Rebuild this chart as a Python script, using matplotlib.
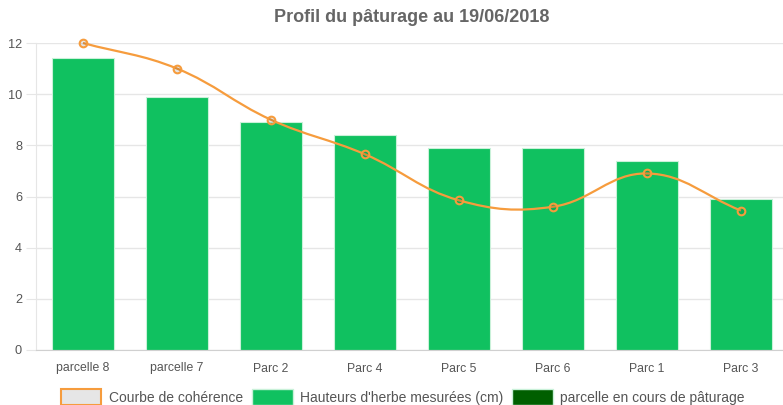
import numpy as np
import matplotlib
matplotlib.use("Agg")
import matplotlib.pyplot as plt
from matplotlib.path import Path
from matplotlib.patches import PathPatch, Patch

plt.rcParams['font.family'] = ['Liberation Sans', 'DejaVu Sans']

# data
parcelles = ['parcelle 8', 'parcelle 7', 'Parc 2', 'Parc 4', 'Parc 5', 'Parc 6', 'Parc 1', 'Parc 3']
hauteurs = [11.4, 9.9, 8.9, 8.4, 7.9, 7.9, 7.4, 5.9]
coherence = [12.0, 11.0, 9.0, 7.65, 5.85, 5.6, 6.9, 5.45]

green = '#10c160'
orange = '#f69c3d'
dark_green = '#005f00'
grey_txt = '#666666'
grid_col = '#e6e6e6'

fig = plt.figure(figsize=(7.83, 4.05), dpi=100)
W, H = 783, 405
# plot area in pixels: x 36..788 (slightly cropped on the right), y 43..350
ax = fig.add_axes([36 / W, (H - 350) / H, 752 / W, 307 / H])

x = np.arange(len(parcelles))
ax.set_xlim(-0.5, len(parcelles) - 0.5)
ax.set_ylim(0, 12)
ax.set_yticks(range(0, 13, 2))
ax.set_xticks(x)
ax.set_xticklabels(parcelles)

ax.grid(axis='y', color=grid_col, linewidth=1)
ax.set_axisbelow(True)
for s in ['top', 'right']:
    ax.spines[s].set_visible(False)
ax.spines['left'].set_color(grid_col)
ax.spines['bottom'].set_color('#d0d0d0')
ax.tick_params(axis='y', colors=grid_col, labelcolor='#555555', length=7, pad=3, labelsize=9.2)
ax.tick_params(axis='x', length=0, pad=9, labelcolor='#555555', labelsize=8.8)

ax.bar(x, hauteurs, width=0.67, color=green, edgecolor='#c9f1d9', linewidth=0.8, zorder=2)

# Chart.js style bezier curve (tension 0.4), computed in pixel space
def chartjs_path(xs, ys, t=0.4):
    pts = ax.transData.transform(np.column_stack([xs, ys]))
    n = len(pts)
    cps = []
    for i in range(n):
        prev = pts[i - 1] if i > 0 else pts[i]
        nxt = pts[i + 1] if i < n - 1 else pts[i]
        d01 = np.hypot(*(pts[i] - prev))
        d12 = np.hypot(*(nxt - pts[i]))
        tot = d01 + d12
        s01 = d01 / tot
        s12 = d12 / tot
        cps.append((pts[i] - t * s01 * (nxt - prev), pts[i] + t * s12 * (nxt - prev)))
    verts = [pts[0]]
    codes = [Path.MOVETO]
    for i in range(1, n):
        verts += [cps[i - 1][1], cps[i][0], pts[i]]
        codes += [Path.CURVE4] * 3
    verts = ax.transData.inverted().transform(np.array(verts))
    return Path(verts, codes)

curve = PathPatch(chartjs_path(x, coherence), facecolor='none', edgecolor=orange,
                  linewidth=1.6, zorder=3, clip_on=False)
ax.add_patch(curve)
ax.plot(x, coherence, linestyle='none', marker='o', markersize=5.5,
        markerfacecolor=(0, 0, 0, 0.1), markeredgecolor=orange, markeredgewidth=1.5,
        zorder=4, clip_on=False)

fig.text((36 + 788) / 2 / W, 1 - 18 / H, 'Profil du pâturage au 19/06/2018',
         ha='center', va='center', fontsize=13, fontweight='bold', color=grey_txt)

handles = [
    Patch(facecolor='#e6e6e6', edgecolor=orange, linewidth=1.5),
    Patch(facecolor=green, edgecolor='#c9f1d9', linewidth=1),
    Patch(facecolor=dark_green, edgecolor='#c9f1d9', linewidth=1),
]
labels = ['Courbe de cohérence', "Hauteurs d'herbe mesurées (cm)", 'parcelle en cours de pâturage']
fig.legend(handles, labels, loc='center', bbox_to_anchor=(403 / W, 1 - 397 / H), ncol=3,
           frameon=False, fontsize=10, handlelength=2.9, handleheight=1.5,
           handletextpad=0.55, columnspacing=0.65, borderpad=0)
for t in fig.legends[0].get_texts():
    t.set_color('#555555')

fig.savefig('out.png', dpi=100)
